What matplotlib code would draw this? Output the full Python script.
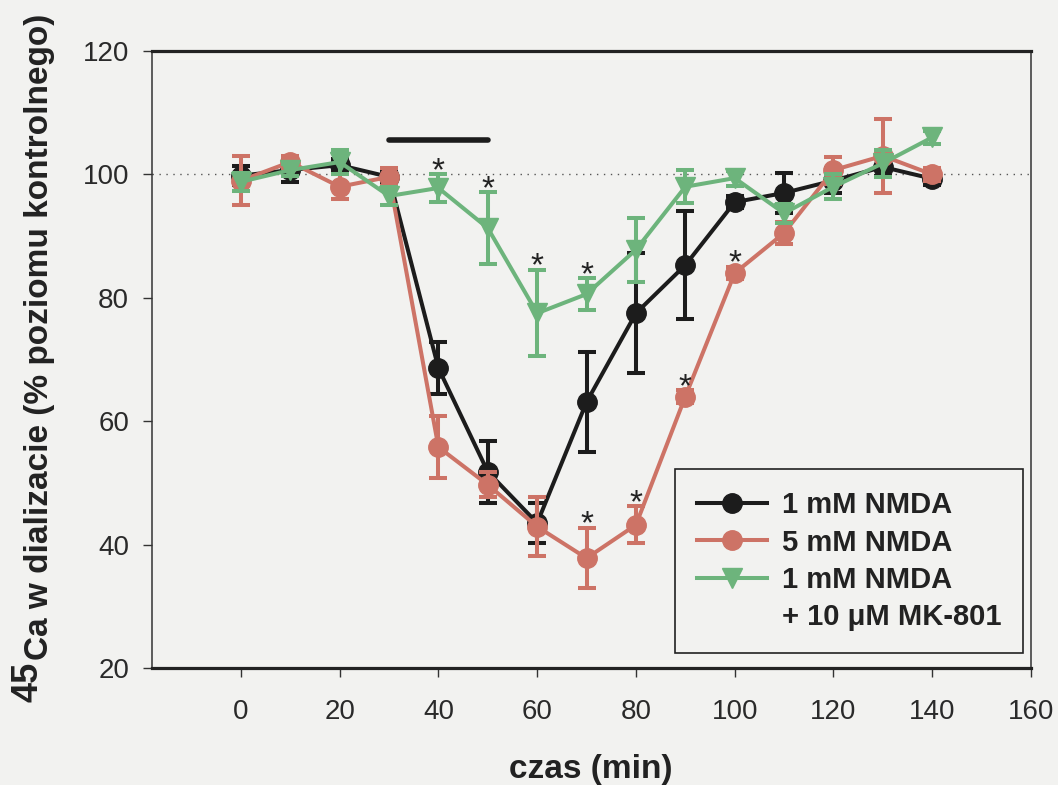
import matplotlib
matplotlib.use('Agg')
import matplotlib.pyplot as plt
from matplotlib.lines import Line2D

plt.rcParams['font.family'] = ['Liberation Sans', 'DejaVu Sans']

BG = '#f2f2f0'
C_BLACK = '#1c1c1c'
C_RED = '#cd7366'
C_GREEN = '#6db47c'

# czas pomiaru (min)
czas = [0, 10, 20, 30, 40, 50, 60, 70, 80, 90, 100, 110, 120, 130, 140]

# 1 mM NMDA
nmda1 = [99.8, 100.7, 101.5, 99.6, 68.6, 51.8, 43.5, 63.1, 77.5, 85.3, 95.5, 97.0, 99.0, 101.2, 99.3]
nmda1_err = [1.5, 2.0, 1.0, 1.0, 4.2, 5.0, 3.2, 8.1, 9.7, 8.7, 1.0, 3.3, 2.0, 1.5, 1.0]

# 5 mM NMDA
nmda5 = [99.0, 102.0, 98.0, 99.6, 55.8, 49.7, 42.9, 37.8, 43.2, 64.0, 84.0, 90.5, 100.7, 103.0, 100.0]
nmda5_err = [4.0, 1.0, 2.0, 1.5, 5.0, 2.0, 4.8, 4.9, 3.0, 1.0, 1.0, 1.8, 2.2, 6.0, 1.0]

# 1 mM NMDA + 10 uM MK-801
mk801 = [98.8, 100.7, 102.0, 96.5, 97.8, 91.3, 77.5, 80.6, 87.8, 98.0, 99.4, 93.7, 98.0, 101.8, 106.0]
mk801_err = [1.5, 1.0, 2.0, 1.5, 2.2, 5.8, 7.0, 2.6, 5.2, 2.7, 1.2, 1.5, 2.0, 2.2, 1.0]

# punkty istotne statystycznie (*)
gwiazdki_mk801 = [40, 50, 60, 70]
gwiazdki_nmda5 = [70, 80, 90, 100]

# okres podawania NMDA
podanie = (30, 50)

fig = plt.figure(figsize=(10.58, 7.85), dpi=100, facecolor=BG)
ax = fig.add_axes([152 / 1058, 1 - 668 / 785, (1031 - 152) / 1058, (668 - 51) / 785])
ax.set_facecolor(BG)

styl = dict(lw=2.9, elinewidth=2.9, capsize=6.3, capthick=2.9, markersize=14)
ax.errorbar(czas, nmda1, yerr=nmda1_err, fmt='-o', color=C_BLACK, zorder=3, **styl)
ax.errorbar(czas, nmda5, yerr=nmda5_err, fmt='-o', color=C_RED, zorder=4, **styl)
ax.errorbar(czas, mk801, yerr=mk801_err, fmt='-v', color=C_GREEN, zorder=5, **styl)

# linia poziomu kontrolnego
ax.axhline(100, color='#555555', lw=1.0, ls=(0, (1, 4)), zorder=1)

# pasek czasu podawania
ax.plot(podanie, [105.5, 105.5], color=C_BLACK, lw=4.0, solid_capstyle='round', zorder=6)

# gwiazdki nad słupkami błędów
for seria, bledy, punkty in [(mk801, mk801_err, gwiazdki_mk801), (nmda5, nmda5_err, gwiazdki_nmda5)]:
    for t in punkty:
        i = czas.index(t)
        ax.annotate('*', (t, seria[i] + bledy[i]), xytext=(0, 2), textcoords='offset points',
                    ha='center', va='center', fontsize=24, color='#222222', zorder=7)

ax.set_xlim(-18, 160)
ax.set_ylim(20, 120)
ax.set_xticks(range(0, 161, 20))
ax.set_yticks(range(20, 121, 20))
ax.tick_params(axis='y', direction='out', length=6.5, width=1.0, labelsize=20, pad=10, colors='#333333', labelcolor='#2a2a2a')
ax.tick_params(axis='x', direction='out', length=6.5, width=1.0, labelsize=20, pad=16, colors='#333333', labelcolor='#2a2a2a')

for s in ['top', 'bottom']:
    ax.spines[s].set_linewidth(2.3)
    ax.spines[s].set_color('#222222')
for s in ['left', 'right']:
    ax.spines[s].set_linewidth(1.1)
    ax.spines[s].set_color('#333333')

# etykiety osi
fig.text(591 / 1058, 1 - 778 / 785, 'czas (min)', ha='center', va='baseline',
         fontsize=24, fontweight='bold', color='#222222')
fig.text(48 / 1058, 1 - 660 / 785, 'Ca w dializacie (% poziomu kontrolnego)', rotation=90,
         rotation_mode='anchor', ha='left', va='baseline', fontsize=24, fontweight='bold', color='#222222')
fig.text(37 / 1058, 1 - 662 / 785, '45', rotation=90, rotation_mode='anchor',
         ha='right', va='baseline', fontsize=26, fontweight='bold', color='#222222')

# legenda
uchwyty = [
    Line2D([], [], color=C_BLACK, lw=2.9, marker='o', markersize=14),
    Line2D([], [], color=C_RED, lw=2.9, marker='o', markersize=14),
    Line2D([], [], color=C_GREEN, lw=2.9, marker='v', markersize=14),
    Line2D([], [], linestyle='none'),
]
etykiety = ['1 mM NMDA', '5 mM NMDA', '1 mM NMDA', '+ 10 \u03bcM MK-801']
leg = ax.legend(uchwyty, etykiety, loc='lower right', bbox_to_anchor=(0.991, 0.024),
                borderaxespad=0, prop={'size': 21, 'weight': 'bold'}, handlelength=2.4,
                handletextpad=0.5, labelspacing=0.32, borderpad=0.75, fancybox=False,
                framealpha=1, facecolor=BG, edgecolor='#222222')
leg.get_frame().set_linewidth(1.2)
for txt in leg.get_texts():
    txt.set_color('#222222')

fig.savefig('out.png', dpi=100, facecolor=BG)
